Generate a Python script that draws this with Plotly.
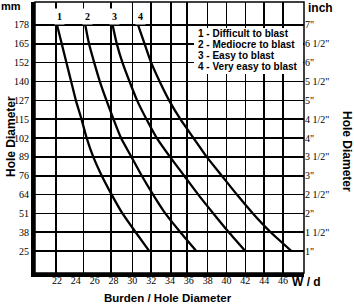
import plotly.graph_objects as go

# ---------------- data ----------------
diam_in = [7, 6.5, 6, 5.5, 5, 4.5, 4, 3.5, 3, 2.5, 2, 1.5, 1]
curve1 = [22.0, 22.5, 23.0, 23.5, 24.0, 24.6, 25.15, 25.85, 26.75, 27.8, 28.95, 30.35, 31.8]
curve2 = [25.0, 25.4, 25.95, 26.55, 27.25, 28.0, 28.8, 29.9, 31.0, 32.2, 33.5, 35.1, 36.8]
curve3 = [27.9, 28.35, 28.95, 29.7, 30.5, 31.5, 32.6, 34.0, 35.5, 37.0, 38.6, 40.25, 42.0]
curve4 = [30.6, 31.3, 32.0, 32.9, 33.9, 35.1, 36.5, 37.9, 39.5, 41.1, 42.8, 44.7, 46.9]
curve_names = ["1", "2", "3", "4"]
legend_lines = ["1 - Difficult to blast", "2 - Mediocre to blast",
                "3 - Easy to blast", "4 - Very easy to blast"]

x_ticks = [22, 24, 26, 28, 30, 32, 34, 36, 38, 40, 42, 44, 46]
grid_x = [21.9, 24.8, 27.7, 30, 32, 34.1, 35.8, 38, 40, 42, 44, 46]
y_ticks = [1, 1.5, 2, 2.5, 3, 3.5, 4, 4.5, 5, 5.5, 6, 6.5, 7]
mm_labels = ["25", "38", "51", "64", "76", "89", "102", "115", "127", "140", "152", "165", "178"]
inch_labels = ['1"', '1 1/2"', '2"', '2 1/2"', '3"', '3 1/2"', '4"', '4 1/2"',
               '5"', '5 1/2"', '6"', '6 1/2"', '7"']

XR = [19.66, 48.23]
YR = [0.42, 7.61]
SERIF = "Liberation Serif, Times New Roman, serif"
SANS = "Liberation Sans, Arial, sans-serif"
ML, MR, MT, MB = 35, 50, 2, 32
W, H = 354, 305

fig = go.Figure()
curves = [curve1, curve2, curve3, curve4]
for cv in curves:
    fig.add_trace(go.Scatter(x=cv, y=diam_in, mode="lines",
                             line=dict(color="black", width=2.3, shape="spline", smoothing=0.6),
                             showlegend=False, hoverinfo="skip"))
fig.add_trace(go.Scatter(x=[], y=[], xaxis="x2", yaxis="y2", showlegend=False, hoverinfo="skip"))

fig.update_layout(
    width=W, height=H,
    margin=dict(l=ML, r=MR, t=MT, b=MB, autoexpand=False),
    paper_bgcolor="white", plot_bgcolor="white",
    hovermode=False,
    xaxis=dict(range=XR, tickvals=x_ticks, ticktext=[str(v) for v in x_ticks], automargin=False,
               showgrid=False, zeroline=False, showline=True, linewidth=4, linecolor="black",
               ticks="", ticklabelstandoff=-5, tickfont=dict(family=SERIF, size=10, color="black")),
    xaxis2=dict(range=XR, overlaying="x", side="top", tickvals=grid_x, showticklabels=False,
                automargin=False,
                showgrid=True, gridcolor="black", gridwidth=1.6, zeroline=False, ticks=""),
    yaxis=dict(range=YR, tickvals=y_ticks, ticktext=mm_labels, automargin=False,
               showgrid=True, gridcolor="black", gridwidth=1.6, zeroline=False,
               showline=True, linewidth=4, linecolor="black", ticks="",
               tickfont=dict(family=SERIF, size=10, color="black")),
    yaxis2=dict(range=YR, overlaying="y", side="right", tickvals=y_ticks, ticktext=inch_labels,
                automargin=False,
                showgrid=False, zeroline=False, ticks="",
                tickfont=dict(family=SERIF, size=10, color="black")),
)

pw, ph = W - ML - MR, H - MT - MB
def px(xp):
    return (xp - ML) / pw
def py(yp):
    return 1 - (yp - MT) / ph

shapes = [
    dict(type="rect", xref="paper", yref="paper", x0=0, x1=1, y0=0, y1=1,
         line=dict(color="black", width=1.5), layer="above"),
    dict(type="rect", xref="paper", yref="paper", x0=px(194), x1=px(303), y0=py(74), y1=py(28),
         fillcolor="white", line=dict(width=0), layer="above"),
]

ann = []
for name, cv in zip(curve_names, curves):
    ann.append(dict(x=cv[0] + 0.25, y=7.23, xref="x", yref="y", text="<b>" + name + "</b>",
                    showarrow=False, font=dict(family=SERIF, size=10, color="black"),
                    bgcolor="white", borderpad=2))
for i, t in enumerate(legend_lines):
    ann.append(dict(x=px(196), y=py(33 + 11 * i), xref="paper", yref="paper", text="<b>" + t + "</b>",
                    showarrow=False, xanchor="left", yanchor="middle",
                    font=dict(family=SANS, size=10, color="black")))
extra = [
    ("<b>mm</b>", 11, 6, 11, 0),
    ("<b>inch</b>", 320, 8, 12, 0),
    ("<b>W / d</b>", 306, 282, 12, 0),
    ("<b>Burden / Hole Diameter</b>", 168, 298, 11.5, 0),
    ("<b>Hole Diameter</b>", 11, 137, 12, -90),
    ("<b>Hole Diameter</b>", 347, 151, 12, 90),
]
for t, xx, yy, sz, ang in extra:
    ann.append(dict(x=px(xx), y=py(yy), xref="paper", yref="paper", text=t, showarrow=False,
                    xanchor="center", yanchor="middle", textangle=ang,
                    font=dict(family=SANS, size=sz, color="black")))

fig.update_layout(shapes=shapes, annotations=ann)
fig.write_html("out.html", config={"displayModeBar": False, "staticPlot": True},
               post_script="document.body.style.margin='0';document.body.style.overflow='hidden';")
